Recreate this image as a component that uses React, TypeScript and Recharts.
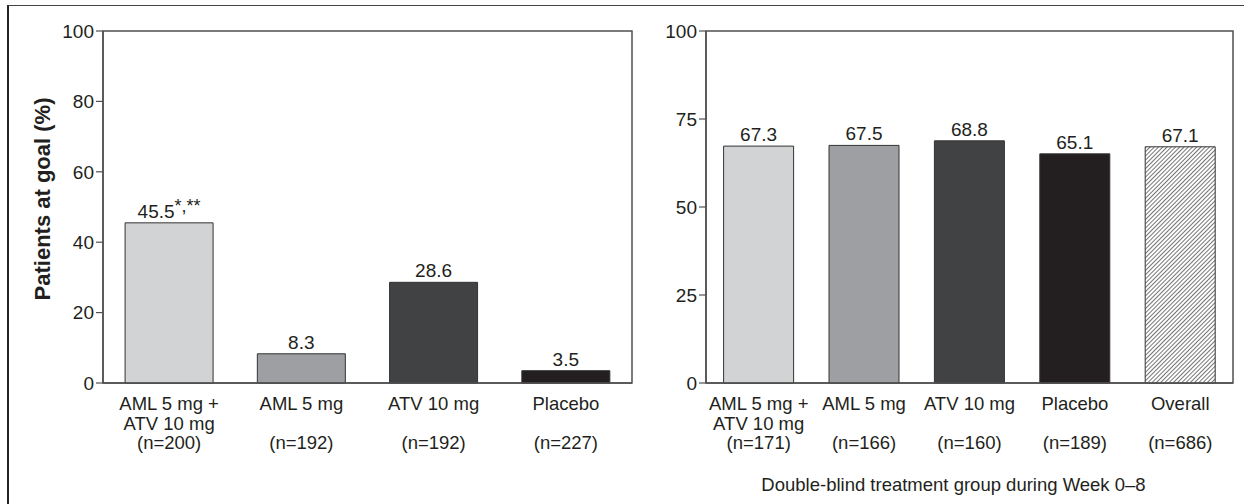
import React from "react";
import { BarChart, Bar, XAxis, YAxis, Cell, LabelList, Label, ReferenceArea } from "recharts";

// ---- data ----
const leftGroups = ["AML 5 mg +|ATV 10 mg", "AML 5 mg", "ATV 10 mg", "Placebo"];
const leftN = ["(n=200)", "(n=192)", "(n=192)", "(n=227)"];
const leftValues = [45.5, 8.3, 28.6, 3.5];
const leftNotes = ["*,**", "", "", ""];
const leftTicks = [0, 20, 40, 60, 80, 100];

const rightGroups = ["AML 5 mg +|ATV 10 mg", "AML 5 mg", "ATV 10 mg", "Placebo", "Overall"];
const rightN = ["(n=171)", "(n=166)", "(n=160)", "(n=189)", "(n=686)"];
const rightValues = [67.3, 67.5, 68.8, 65.1, 67.1];
const rightTicks = [0, 25, 50, 75, 100];

const yAxisTitle = "Patients at goal (%)";
const xAxisTitle = "Double-blind treatment group during Week 0–8";

// ---- styles ----
const FONT = "'Liberation Sans', Arial, Helvetica, sans-serif";
const TEXT = "#231f20";
const AXIS = "#505050";
const barColors = ["#d1d3d4", "#9d9fa2", "#414244", "#231f20", "url(#hatch)"];

const leftData = leftGroups.map((g, i) => ({ group: g, n: leftN[i], value: leftValues[i], note: leftNotes[i] }));
const rightData = rightGroups.map((g, i) => ({ group: g, n: rightN[i], value: rightValues[i], note: "" }));

function makeXTick(data: any[]) {
  return function XTick(props: any) {
    const { x, y, payload } = props;
    const row = data.find((d) => d.group === payload.value) || data[props.index] || {};
    const lines = String(payload.value).split("|");
    return (
      <g>
        <text x={x} y={y} textAnchor="middle" fontFamily={FONT} fontSize={18.5} fill={TEXT}>
          {lines.map((l, i) => (
            <tspan key={i} x={x} y={y + 27 + i * 19.5}>
              {l}
            </tspan>
          ))}
          <tspan x={x} y={y + 27 + 2 * 19.5}>
            {row.n}
          </tspan>
        </text>
      </g>
    );
  };
}

function makeValueLabel(data: any[]) {
  return function ValueLabel(props: any) {
    const { x, y, width, value, index } = props;
    const note = data[index] ? data[index].note : "";
    const cx = Number(x) + Number(width) / 2;
    return (
      <text x={cx} y={Number(y) - 5} textAnchor="middle" fontFamily={FONT} fontSize={19} fill={TEXT}>
        {value}
        {note ? (
          <tspan fontSize={18} dy={-6}>
            {note}
          </tspan>
        ) : null}
      </text>
    );
  };
}

function YTitle(props: any) {
  const vb = props.viewBox || { x: 43, y: 31, width: 60, height: 352 };
  const cx = vb.x - 1;
  const cy = vb.y + vb.height / 2 - 8;
  return (
    <text
      x={cx}
      y={cy}
      transform={`rotate(-90, ${cx}, ${cy})`}
      textAnchor="middle"
      dominantBaseline="central"
      fontFamily={FONT}
      fontSize={22}
      fontWeight="bold"
      fill={TEXT}
    >
      {yAxisTitle}
    </text>
  );
}

function XTitle(props: any) {
  const vb = props.viewBox || { x: 46, y: 383, width: 527, height: 121 };
  const cx = vb.x + vb.width / 2 - 16;
  return (
    <text x={cx} y={vb.y + 108} textAnchor="middle" fontFamily={FONT} fontSize={18.5} fill={TEXT}>
      {xAxisTitle}
    </text>
  );
}

const tickStyle = { fontSize: 19, fill: TEXT, fontFamily: FONT };

export default function App() {
  return (
    <div style={{ position: "absolute", left: 0, top: 0, width: 1244, height: 504, background: "#fff", overflow: "hidden" }}>
      <svg width={0} height={0} style={{ position: "absolute" }}>
        <defs>
          <pattern id="hatch" patternUnits="userSpaceOnUse" width={3} height={3} patternTransform="rotate(45)">
            <rect width={3} height={3} fill="#ffffff" />
            <line x1={0} y1={0} x2={0} y2={3} stroke="#2a2a2a" strokeWidth={1.3} />
          </pattern>
        </defs>
      </svg>
      <div
        style={{
          position: "absolute",
          left: 7,
          top: 5,
          width: 1244,
          height: 510,
          borderTop: "1px solid #444",
          borderLeft: "2px solid #222",
        }}
      />
      <div style={{ position: "absolute", left: 0, top: 0 }}>
        <BarChart
          width={660}
          height={504}
          data={leftData}
          margin={{ top: 31, right: 28, bottom: 0, left: 43 }}
          barCategoryGap="16.7%"
        >
          <ReferenceArea y1={0} y2={100} fill="none" fillOpacity={0} stroke={AXIS} strokeWidth={1.5} />
          <XAxis
            dataKey="group"
            height={121}
            interval={0}
            tickLine={false}
            tickSize={0}
            tickMargin={0}
            axisLine={{ stroke: AXIS, strokeWidth: 1.5 }}
            tick={makeXTick(leftData)}
          />
          <YAxis
            width={60}
            domain={[0, 100]}
            ticks={leftTicks}
            interval={0}
            tickSize={7}
            tickMargin={2}
            tickLine={{ stroke: AXIS, strokeWidth: 1.2 }}
            axisLine={{ stroke: AXIS, strokeWidth: 1.5 }}
            tick={tickStyle}
          >
            <Label content={<YTitle />} />
          </YAxis>
          <Bar dataKey="value" isAnimationActive={false} stroke="#333" strokeWidth={1}>
            {leftData.map((d, i) => (
              <Cell key={i} fill={barColors[i]} />
            ))}
            <LabelList dataKey="value" content={makeValueLabel(leftData)} />
          </Bar>
        </BarChart>
      </div>
      <div style={{ position: "absolute", left: 660, top: 0 }}>
        <BarChart
          width={584}
          height={504}
          data={rightData}
          margin={{ top: 31, right: 11, bottom: 0, left: 6 }}
          barCategoryGap="16.7%"
        >
          <ReferenceArea y1={0} y2={100} fill="none" fillOpacity={0} stroke={AXIS} strokeWidth={1.5} />
          <XAxis
            dataKey="group"
            height={121}
            interval={0}
            tickLine={false}
            tickSize={0}
            tickMargin={0}
            axisLine={{ stroke: AXIS, strokeWidth: 1.5 }}
            tick={makeXTick(rightData)}
          >
            <Label content={<XTitle />} />
          </XAxis>
          <YAxis
            width={40}
            domain={[0, 100]}
            ticks={rightTicks}
            interval={0}
            tickSize={7}
            tickMargin={2}
            tickLine={{ stroke: AXIS, strokeWidth: 1.2 }}
            axisLine={{ stroke: AXIS, strokeWidth: 1.5 }}
            tick={tickStyle}
          />
          <Bar dataKey="value" isAnimationActive={false} stroke="#333" strokeWidth={1}>
            {rightData.map((d, i) => (
              <Cell key={i} fill={barColors[i]} />
            ))}
            <LabelList dataKey="value" content={makeValueLabel(rightData)} />
          </Bar>
        </BarChart>
      </div>
    </div>
  );
}
